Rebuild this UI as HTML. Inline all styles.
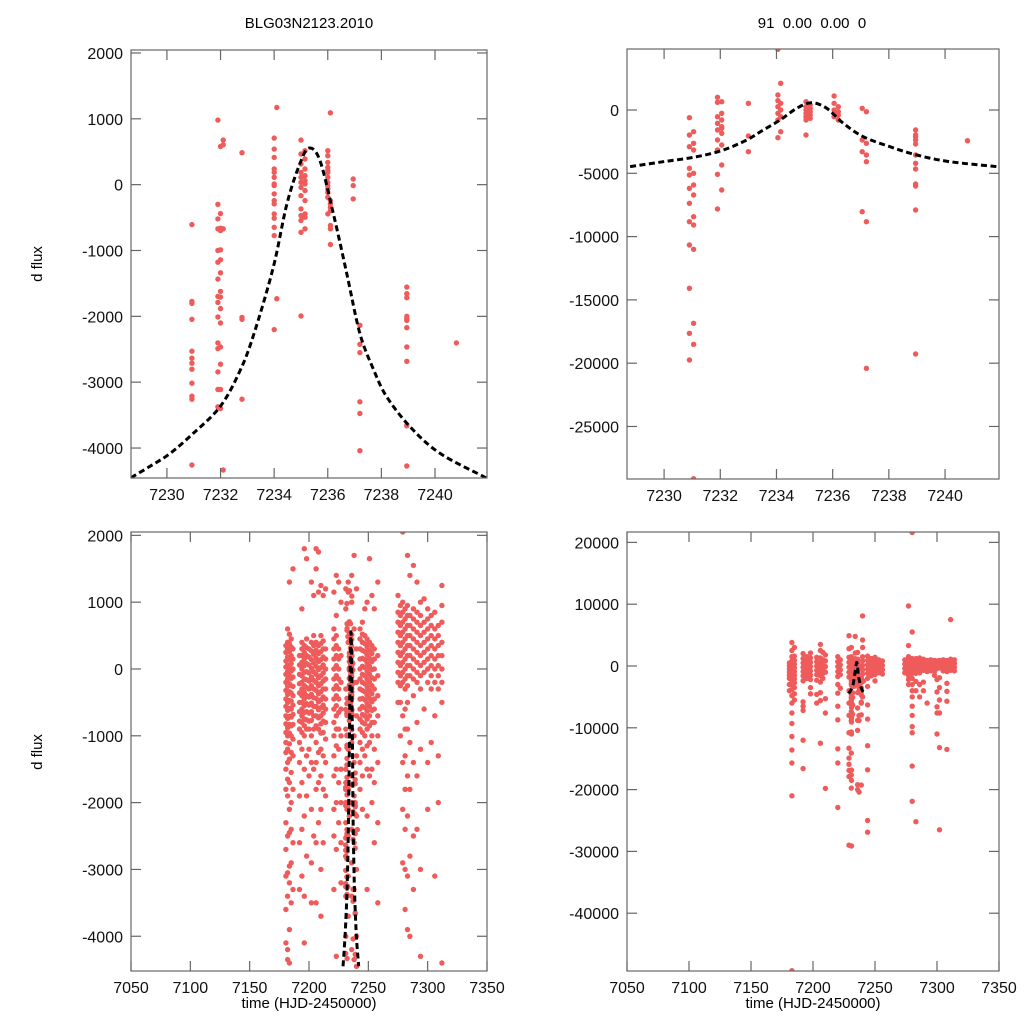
<!DOCTYPE html>
<html><head><meta charset="utf-8"><style>
html,body{margin:0;padding:0;background:#fff;}
svg{display:block;font-family:"Liberation Sans",Arial,sans-serif;}
</style></head><body>
<svg id="chart" width="1024" height="1024" viewBox="0 0 1024 1024" xmlns="http://www.w3.org/2000/svg">
<rect x="0" y="0" width="1024" height="1024" fill="#fff"/>
<text x="309" y="28" font-size="15" text-anchor="middle">BLG03N2123.2010</text>
<text x="812" y="28" font-size="15" text-anchor="middle" xml:space="preserve">91  0.00  0.00  0</text>
<text transform="translate(42,264) rotate(-90)" font-size="15" text-anchor="middle">d flux</text>
<text transform="translate(42,752) rotate(-90)" font-size="15" text-anchor="middle">d flux</text>
<text x="309" y="1008" font-size="15" text-anchor="middle">time (HJD-2450000)</text>
<text x="813" y="1008" font-size="15" text-anchor="middle">time (HJD-2450000)</text>
</svg>
<script>
// ---- model curves ----
const curveAT = [7228.66,7229.4,7230.12,7230.98,7231.98,7232.7,7233.22,7233.97,7234.47,7234.97,7235.31,7235.71,7236.21,7236.71,7237.2,7237.7,7238.2,7239.07,7240.19,7241.9];
const curveAY = [-4450,-4270,-4081,-3778,-3374,-2850,-2300,-1253,-300,330,556,364,-444,-1353,-2262,-2800,-3222,-3677,-4081,-4450];
const curveBT = [7228.79,7229.97,7231.16,7232.11,7232.94,7233.53,7234.13,7234.72,7235.25,7235.79,7236.38,7237.09,7238.04,7238.99,7240.17,7241.84];
const curveBY = [-4474,-4084,-3689,-3160,-2370,-1580,-790,134,577,134,-1051,-2109,-2899,-3555,-4084,-4474];

// ---- season zoom data: top-left (columns: time, fluxes) ----
const colsAT = [7230.93,7231.9,7232.0,7232.1,7232.8,7234.0,7234.1,7235.0,7235.15,7236.0,7236.1,7236.95,7237.2,7238.95,7240.8];
const colsAY = [
 [-606,-1773,-1803,-2045,-2530,-2636,-2712,-2803,-3015,-3212,-3258,-4258],
 [980,-298,-520,-671,-1000,-1177,-1435,-1697,-1788,-2010,-2404,-2490,-2843,-3111,-3374],
 [580,-439,-662,-697,-989,-1141,-1338,-1621,-1707,-1883,-2101,-2465,-2727,-3111,-3399],
 [677,606,-671,-4333],
 [485,-2016,-2045,-3258],
 [707,540,414,238,186,111,11,-15,-141,-242,-292,-444,-510,-647,-773,-2202],
 [1171,-1732],
 [677,465,314,186,111,35,-41,-167,-368,-470,-545,-723,-1995],
 [515,389,238,136,61,11,-91,-242,-444,-495,-671],
 [515,439,338,262,212,186,111,35,-15,-65,-117,-192,-444],
 [1091,-242,-292,-344,-394,-621,-671,-909],
 [86,-15,-217],
 [-2136,-2424,-2550,-3298,-3475,-4040],
 [-1556,-1656,-1717,-2000,-2035,-2061,-2172,-2465,-2682,-3652,-3662,-4273],
 [-2404]
];
// ---- season zoom data: top-right ----
const colsBT = [7230.9,7231.05,7231.9,7232.05,7233.0,7234.05,7234.15,7235.05,7235.2,7236.05,7236.2,7237.05,7237.2,7238.95,7240.8];
const colsBY = [
 [-608,-1975,-2899,-4606,-5135,-6186,-7371,-8824,-10665,-14086,-17641,-19750],
 [-1714,-2631,-3160,-5001,-5925,-6715,-8429,-9085,-11005,-16851,-18510,-29127],
 [1003,608,-529,-1051,-1580,-2370,-3160,-5080,-7821],
 [656,-261,-790,-1319,-1446,-1841,-2765,-4345,-6320],
 [529,-2054,-3294],
 [4795,1185,735,261,-261,-790,-2188],
 [2109,529,0,-529,-1714],
 [656,261,0,-261,-529,-790,-1975],
 [395,134,-134,-395,-656],
 [1106,529,0,-261,-529],
 [261,-134,-395,-790],
 [134,-2370,-3294,-8034],
 [-134,-2631,-3555,-4084,-8824,-20406],
 [-1580,-1975,-2109,-2370,-2686,-3555,-4211,-4661,-5846,-6004,-7900,-19276],
 [-2425]
];
// ---- full-season data: bottom-left ----
const colsCT = [7180.5,7182,7183.5,7185,7186.5,7192,7194,7196,7198,7200,7202,7204,7206,7208,7210,7212,7214,7221,7223,7225,7227,7231,7233,7236,7238,7240,7243,7245,7247,7249,7251,7253,7255,7258,7275,7277,7279,7281,7283,7285,7288,7291,7294,7297,7300,7303,7306,7309,7312];
const colsCY = [
 [350,250,120,30,-80,-200,-320,-450,-560,-700,-820,-950,-1100,-1250,-1500,-1800,-2300,-2700,-3100,-3600,-4100],
 [600,400,300,180,60,-40,-150,-260,-380,-500,-620,-740,-880,-1000,-1200,-1400,-1650,-1900,-2500,-3050,-3400,-4200,-4350],
 [1300,520,380,260,140,20,-100,-220,-340,-470,-590,-710,-830,-960,-1120,-1350,-1700,-2100,-2450,-2950,-3200,-3900,-4400],
 [450,330,200,80,-30,-140,-250,-360,-480,-600,-720,-850,-1000,-1250,-1550,-2000,-2400,-2900,-3500],
 [1500,300,150,0,-120,-260,-400,-540,-680,-830,-1050,-1300,-1800,-2600,-3300],
 [200,60,-80,-220,-360,-500,-640,-780,-900,-1100,-1400,-1900,-2600,-3300],
 [900,400,300,200,100,0,-100,-200,-300,-400,-500,-600,-700,-800,-950,-1200,-1700,-2400,-3100],
 [1800,350,250,150,50,-50,-150,-250,-350,-450,-550,-650,-750,-850,-1000,-1500,-2200,-3400,-4100],
 [1650,450,320,200,80,-40,-160,-280,-400,-520,-640,-760,-900,-1300,-1900,-2800],
 [300,180,60,-60,-180,-300,-420,-540,-660,-780,-900,-1200,-1600],
 [1300,400,270,140,10,-120,-250,-380,-510,-640,-770,-1000,-1400,-2100,-2900,-3500],
 [1100,500,350,220,90,-40,-170,-300,-430,-560,-700,-900,-1500,-2500],
 [1800,1500,400,280,160,40,-80,-200,-320,-440,-560,-700,-850,-1100,-1400,-1800,-2600,-3500],
 [1750,1150,350,230,110,-10,-130,-250,-370,-490,-610,-730,-900,-1250,-1700,-2300],
 [1250,500,380,260,140,20,-100,-220,-340,-460,-580,-700,-820,-960,-1200,-1600,-2100,-3000,-3700],
 [1100,420,300,180,60,-60,-180,-300,-420,-540,-660,-780,-950,-1300,-1800,-2600],
 [1200,300,150,0,-150,-300,-450,-600,-800,-1050,-1400,-1900],
 [1150,600,450,300,150,0,-150,-300,-450,-600,-800,-1000,-1300,-1600,-2100,-2500,-3300],
 [1400,800,500,350,200,50,-100,-250,-400,-550,-700,-900,-1150,-1500,-2000,-2700,-4300],
 [1300,300,150,0,-150,-300,-450,-650,-900,-1200,-1700,-2300],
 [1000,200,-200,-600,-1000,-1500,-2000,-2600,-3200],
 [1200,900,-300,-900,-1500,-1700,-2000,-2300,-2800,-3400,-4000],
 [1150,1300,400,-500,-1200,-1800,-2100,-2500,-3100,-3700],
 [1400,1000,200,-600,-1100,-1600,-2000,-2400,-2900,-3400,-4200],
 [1700,600,-200,-1000,-1400,-1900,-2600,-3300,-4350],
 [1200,300,-200,-700,-1300,-2200,-3000,-4000,-4450],
 [600,450,300,150,0,-150,-300,-450,-600,-750,-900,-1100,-1400,-1800],
 [700,520,400,280,160,40,-80,-200,-320,-440,-560,-680,-800,-950,-1200,-1600,-2100],
 [900,500,380,260,140,20,-100,-220,-340,-460,-580,-700,-820,-1000,-1300],
 [1000,450,330,210,90,-30,-150,-270,-390,-510,-630,-750,-900,-1150,-1500,-2200,-3300],
 [1650,400,280,160,40,-80,-200,-320,-440,-560,-700,-850,-1100,-1600],
 [1100,350,230,110,-10,-130,-250,-370,-490,-620,-800,-1000,-1500,-2000],
 [900,300,150,0,-150,-300,-450,-600,-800,-1200,-1700,-2600],
 [1300,200,-100,-400,-700,-1000,-1400,-2300,-3500],
 [1100,850,700,550,400,250,100,-50,-200,-500],
 [950,800,650,500,350,200,50,-100,-250,-500,-1000],
 [2050,1000,850,700,550,400,250,100,-50,-200,-700,-1400,-2100,-2900],
 [900,750,600,450,300,150,0,-150,-300,-600,-900,-1300,-1800,-2400,-3000,-3600],
 [1700,950,800,650,500,350,200,50,-100,-250,-500,-900,-1600,-2200,-3100,-3900],
 [1400,800,650,500,350,200,50,-100,-1100,-1800,-2800,-4000],
 [1550,900,750,600,450,300,150,0,-150,-400,-1400,-2500,-3300],
 [1300,850,700,550,400,250,100,-50,-200,-800,-1600,-2400],
 [1000,800,650,500,350,200,50,-100,-300,-1200,-3000,-4300],
 [1050,700,550,400,250,100,-50,-600],
 [900,750,600,450,300,150,0,-200,-1400,-2100],
 [800,650,500,350,200,50,-100,-300,-1100],
 [850,600,450,300,150,0,-200,-700,-3100],
 [650,500,350,200,50,-100,-300,-1300,-2000],
 [1250,950,700,400,200,0,-200,-500,-4400]
];
// ---- full-season data: bottom-right ----
const colsDT = [7181,7183,7185,7192,7195,7198,7203,7206,7208,7210,7220,7222,7229,7231,7236,7240,7244,7247,7250,7253,7256,7274,7277,7280,7283,7286,7289,7292,7295,7298,7300,7302,7305,7308,7311,7314];
const colsDY = [
 [500,0,-500,-1000,-1500,-2000,-3000,-4000],
 [3800,2500,1500,800,200,-300,-800,-1300,-1800,-2300,-3000,-3800,-4800,-6000,-7600,-9300,-11400,-13600,-15700,-21000,-49300],
 [3000,1600,900,300,-300,-900,-1500,-2100,-2700,-3500,-4500,-5500],
 [2000,1200,500,-200,-900,-1600,-2400,-5800,-6500,-7200,-12000,-16600],
 [1500,800,100,-600,-1300,-2000],
 [2100,1300,600,-100,-800,-1500,-2200,-3500,-4500],
 [1400,700,0,-700,-1400,-2300,-4600,-6000],
 [3500,2500,1300,500,-200,-900,-1600,-2600,-4300,-5600,-12500],
 [2200,1000,200,-500,-1200,-2000],
 [1800,800,-100,-1000,-5300,-7600,-19800],
 [1500,700,-100,-900,-1700,-3000,-4400,-6500,-8700,-13400,-15700,-22900],
 [1000,200,-600,-1400,-3600],
 [4900,2800,1400,600,-200,-1000,-1800,-4000,-6000,-8000,-10800,-13300,-14900,-15900,-16900,-17900,-29000],
 [3000,1500,500,-400,-1300,-2400,-5500],
 [2200,600,-500,-1400,-2800,-4300,-6800,-8800,-10400,-19200,-20000],
 [8100,4200,3000,1500,800,100,-600,-1300,-2500,-5000],
 [1600,900,200,-500,-1200,-2000,-3300,-6300,-8600,-12900,-16800,-25000,-26900],
 [1200,500,-200,-900,-1600],
 [1400,700,0,-700,-1400,-2400],
 [1000,300,-400,-1100],
 [800,100,-600,-1300],
 [1000,300,-400,-1100],
 [9700,3300,1500,900,300,-300,-900,-1500,-2200,-3000],
 [21600,5500,1200,600,0,-600,-1200,-2000,-3000,-4000,-5000,-6500,-8000,-9800,-10800,-16200,-21900],
 [1200,600,0,-600,-1200,-2500,-4000,-25200],
 [1300,700,100,-500,-1100,-3000,-5000],
 [1100,500,-100,-700,-2600,-4000],
 [900,300,-300,-900,-6000],
 [1000,400,-200,-800],
 [900,300,-300,-900,-1500],
 [800,200,-400,-2200,-4200,-6600,-7600,-11000],
 [900,300,-300,-1900,-3500,-5500,-7600,-13200,-26500],
 [1000,400,-200,-800],
 [900,300,-300,-900,-2800,-4100,-5700,-13500],
 [7500,1100,500,-100,-700],
 [1000,400,-200,-800]
];
// ---- ticks ----
const ticksXZoom = [7230,7232,7234,7236,7238,7240];
const ticksXFull = [7050,7100,7150,7200,7250,7300,7350];
const ticksYA = [-4000,-3000,-2000,-1000,0,1000,2000];
const ticksYB = [-25000,-20000,-15000,-10000,-5000,0];
const ticksYD = [-40000,-30000,-20000,-10000,0,10000,20000];

const NS = "http://www.w3.org/2000/svg";
const svg = document.getElementById('chart');
function mk(tag, attrs, parent){ const e=document.createElementNS(NS,tag); for(const k in attrs) e.setAttribute(k,attrs[k]); (parent||svg).appendChild(e); return e; }

function smoothPath(P){
  let d = 'M' + P[0][0].toFixed(1) + ',' + P[0][1].toFixed(1);
  for (let i = 0; i < P.length - 1; i++) {
    const p0 = P[Math.max(0, i - 1)], p1 = P[i], p2 = P[i + 1], p3 = P[Math.min(P.length - 1, i + 2)];
    const c1x = p1[0] + (p2[0] - p0[0]) / 6, c1y = p1[1] + (p2[1] - p0[1]) / 6;
    const c2x = p2[0] - (p3[0] - p1[0]) / 6, c2y = p2[1] - (p3[1] - p1[1]) / 6;
    d += ' C' + c1x.toFixed(1) + ',' + c1y.toFixed(1) + ' ' + c2x.toFixed(1) + ',' + c2y.toFixed(1) + ' ' + p2[0].toFixed(1) + ',' + p2[1].toFixed(1);
  }
  return d;
}

function panel(id, L, T, R, B, x0, x1, y0, y1, xt, yt, colSets, curveT, curveY){
  const sx = t => L + (t - x0) / (x1 - x0) * (R - L);
  const sy = v => B - (v - y0) / (y1 - y0) * (B - T);
  const g = mk('g', {});
  
  
  const cp = mk('clipPath', {id: id + '-clip'}, g);
  mk('rect', {x: L, y: T, width: R - L, height: B - T}, cp);
  const pts = mk('g', {'clip-path': 'url(#' + id + '-clip)'}, g);
  
  
  colSets.forEach(([ts, ys]) => {
    ts.forEach((t, i) => {
      ys[i].forEach(v => {
        const c = mk('circle', {cx: sx(t).toFixed(1), cy: sy(v).toFixed(1), r: 2.7, fill: '#ef5b5b'}, pts);
        
        
      });
    });
  });
  const P = curveT.map((t, i) => [sx(t), sy(curveY[i])]);
  const cv = mk('path', {d: smoothPath(P), fill: 'none', stroke: '#000', 'stroke-width': 3, 'stroke-dasharray': '6,3.5', 'clip-path': 'url(#' + id + '-clip)'}, g);
  
  
  const fr = mk('rect', {x: L, y: T, width: R - L, height: B - T, fill: 'none', stroke: '#666', 'stroke-width': 1.2}, g);
  
  
  xt.forEach(t => {
    const x = sx(t);
    mk('line', {x1: x, x2: x, y1: B, y2: B - 10, stroke: '#666', 'stroke-width': 1.2}, g);
    mk('line', {x1: x, x2: x, y1: T, y2: T + 10, stroke: '#666', 'stroke-width': 1.2}, g);
    const lb = mk('text', {x: x, y: B + 22, 'font-size': 16, 'text-anchor': 'middle', fill: '#111'}, g);
    lb.textContent = t;
    
    
  });
  yt.forEach(v => {
    const y = sy(v);
    mk('line', {x1: L, x2: L + 10, y1: y, y2: y, stroke: '#666', 'stroke-width': 1.2}, g);
    mk('line', {x1: R, x2: R - 10, y1: y, y2: y, stroke: '#666', 'stroke-width': 1.2}, g);
    const lb = mk('text', {x: L - 8, y: y + 6, 'font-size': 16, 'text-anchor': 'end', fill: '#111'}, g);
    lb.textContent = v;
    
    
  });
}

panel('top-left', 131, 50, 487, 478, 7228.66, 7241.94, -4455, 2045, ticksXZoom, ticksYA, [[colsAT, colsAY]], curveAT, curveAY);
panel('top-right', 627, 49, 999, 479, 7228.68, 7241.92, -29150, 4820, ticksXZoom, ticksYB, [[colsBT, colsBY]], curveBT, curveBY);
panel('bottom-left', 131, 532, 487, 971, 7050, 7350, -4520, 2050, ticksXFull, ticksYA, [[colsCT, colsCY], [colsAT, colsAY]], curveAT, curveAY);
panel('bottom-right', 627, 532, 999, 971, 7050, 7350, -49350, 21680, ticksXFull, ticksYD, [[colsDT, colsDY], [colsBT, colsBY]], curveBT, curveBY);
</script>
</body></html>
